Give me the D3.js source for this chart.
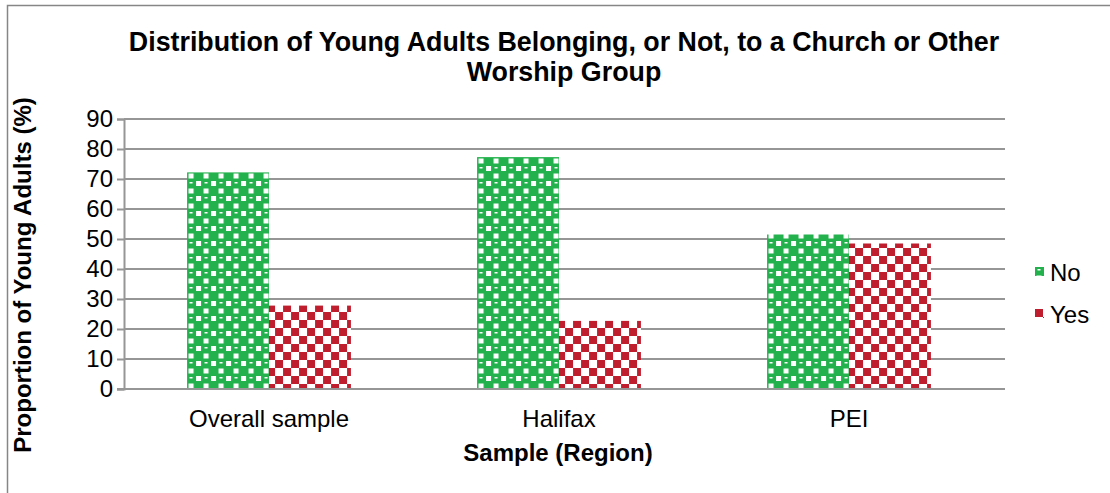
<!DOCTYPE html>
<html>
<head>
<meta charset="utf-8">
<script src="https://cdn.jsdelivr.net/npm/d3@7"></script>
<style>
  body { margin: 0; background: #fff; }
  text { font-family: "Liberation Sans", Arial, sans-serif; fill: #000; }
</style>
</head>
<body>
<div id="chart"></div>
<script>
// data
var categories = ['Overall sample', 'Halifax', 'PEI'];
var seriesNames = ['No', 'Yes'];
var noValues = [72.2, 77.3, 51.5];
var yesValues = [27.8, 22.7, 48.5];
var yTicks = [0, 10, 20, 30, 40, 50, 60, 70, 80, 90];

var W = 1110, H = 493;
var plot = { left: 124, right: 1005, top: 119, bottom: 389 };

var svg = d3.select('#chart').append('svg')
    .attr('width', W)
    .attr('height', H);

// patterns
var defs = svg.append('defs');
var pg = defs.append('pattern')
    .attr('id', 'patNo')
    .attr('patternUnits', 'userSpaceOnUse')
    .attr('width', 15).attr('height', 15);
pg.append('rect').attr('width', 15).attr('height', 15).attr('fill', '#22b14c');
pg.append('rect').attr('x', 9).attr('y', 1).attr('width', 5).attr('height', 5).attr('fill', '#fff');
pg.append('rect').attr('x', 1.5).attr('y', 8.5).attr('width', 5).attr('height', 5).attr('fill', '#fff');
pg.append('rect').attr('x', 2.5).attr('y', 2).attr('width', 3).attr('height', 1.5).attr('fill', '#fff');

var pr = defs.append('pattern')
    .attr('id', 'patYes')
    .attr('patternUnits', 'userSpaceOnUse')
    .attr('width', 16).attr('height', 16);
pr.append('rect').attr('width', 16).attr('height', 16).attr('fill', '#fff');
pr.append('rect').attr('x', 0).attr('y', 0).attr('width', 8).attr('height', 8).attr('fill', '#be1e2d');
pr.append('rect').attr('x', 8).attr('y', 8).attr('width', 8).attr('height', 8).attr('fill', '#be1e2d');

var fills = { No: 'url(#patNo)', Yes: 'url(#patYes)' };

// outer frame (runs off the right and bottom of the picture)
svg.append('rect')
    .attr('x', 7.5).attr('y', 5.5)
    .attr('width', 1200).attr('height', 600)
    .attr('fill', 'none')
    .attr('stroke', '#868686')
    .attr('stroke-width', 1.5);

// scales
var x0 = d3.scaleBand()
    .domain(categories)
    .range([plot.left, 994])
    .paddingInner(0.435)
    .paddingOuter(0.2175);

var x1 = d3.scaleBand()
    .domain(seriesNames)
    .range([0, x0.bandwidth()]);

var y = d3.scaleLinear()
    .domain([0, 90])
    .range([plot.bottom, plot.top]);

// gridlines
svg.append('g')
    .selectAll('line')
    .data(yTicks.slice(1))
    .enter().append('line')
    .attr('x1', plot.left).attr('x2', plot.right)
    .attr('y1', function (d) { return y(d); })
    .attr('y2', function (d) { return y(d); })
    .attr('stroke', '#969696')
    .attr('stroke-width', 2);

// bars
var rows = categories.map(function (c, i) {
    return { cat: c, values: [{ key: 'No', v: noValues[i] }, { key: 'Yes', v: yesValues[i] }] };
});

svg.append('g')
    .selectAll('g')
    .data(rows)
    .enter().append('g')
    .attr('transform', function (d) { return 'translate(' + x0(d.cat) + ',0)'; })
    .selectAll('rect')
    .data(function (d) { return d.values; })
    .enter().append('rect')
    .attr('x', function (d) { return x1(d.key); })
    .attr('y', function (d) { return y(d.v); })
    .attr('width', x1.bandwidth())
    .attr('height', function (d) { return y(0) - y(d.v); })
    .attr('fill', function (d) { return fills[d.key]; });

// y axis
var yAxis = svg.append('g')
    .attr('transform', 'translate(' + plot.left + ',0)')
    .call(d3.axisLeft(y).tickValues(yTicks).tickSize(7).tickPadding(4));
yAxis.select('.domain').attr('stroke', '#969696').attr('stroke-width', 2);
yAxis.selectAll('.tick line').attr('stroke', '#969696').attr('stroke-width', 2);
yAxis.selectAll('.tick text')
    .style('font-family', '"Liberation Sans", Arial, sans-serif')
    .style('font-size', '24px')
    .attr('fill', '#000');

// x axis
var xAxis = svg.append('g')
    .attr('transform', 'translate(0,' + plot.bottom + ')')
    .call(d3.axisBottom(x0).tickSize(0).tickPadding(21));
xAxis.select('.domain').attr('stroke', '#969696').attr('stroke-width', 2)
    .attr('d', 'M' + (plot.left - 7) + ',0H' + plot.right);
xAxis.selectAll('.tick text')
    .style('font-family', '"Liberation Sans", Arial, sans-serif')
    .style('font-size', '24px')
    .attr('fill', '#000');

// title
svg.append('text')
    .attr('x', 564).attr('y', 51)
    .attr('text-anchor', 'middle')
    .style('font-size', '26.8px').style('font-weight', 'bold')
    .text('Distribution of Young Adults Belonging, or Not, to a Church or Other');
svg.append('text')
    .attr('x', 564).attr('y', 81)
    .attr('text-anchor', 'middle')
    .style('font-size', '26.8px').style('font-weight', 'bold')
    .text('Worship Group');

// axis titles
svg.append('text')
    .attr('transform', 'translate(31,275) rotate(-90)')
    .attr('text-anchor', 'middle')
    .style('font-size', '24px').style('font-weight', 'bold')
    .text('Proportion of Young Adults (%)');

svg.append('text')
    .attr('x', 558).attr('y', 461)
    .attr('text-anchor', 'middle')
    .style('font-size', '24px').style('font-weight', 'bold')
    .text('Sample (Region)');

// legend
var legend = svg.append('g')
    .selectAll('g')
    .data(seriesNames)
    .enter().append('g')
    .attr('transform', function (d, i) { return 'translate(1035,' + (267 + i * 42) + ')'; });
legend.append('rect')
    .attr('width', 9).attr('height', 9)
    .attr('fill', function (d) { return fills[d]; });
legend.append('text')
    .attr('x', 15).attr('y', 14)
    .style('font-size', '24px')
    .text(function (d) { return d; });
</script>
</body>
</html>
